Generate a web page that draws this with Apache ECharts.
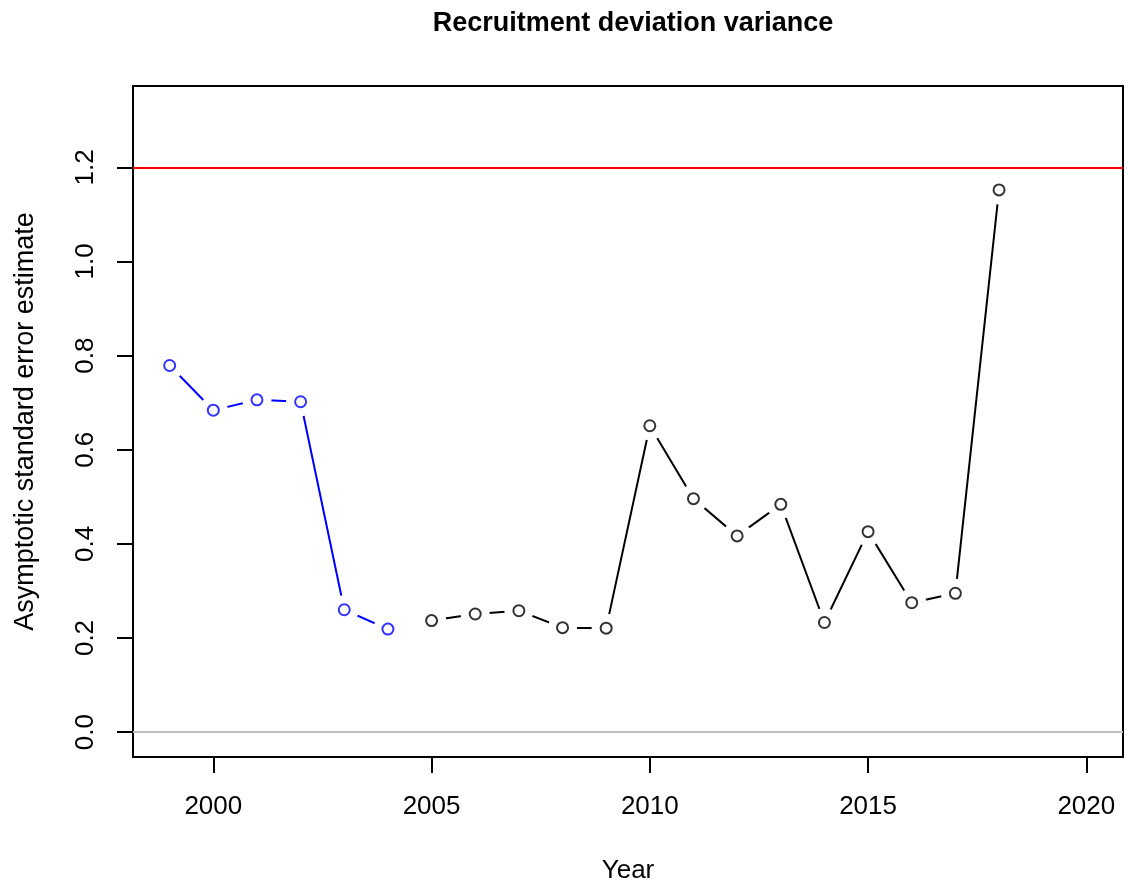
<!DOCTYPE html>
<html>
<head>
<meta charset="utf-8">
<title>Recruitment deviation variance</title>
<script src="https://cdn.jsdelivr.net/npm/echarts@6/dist/echarts.min.js"></script>
<style>
  html, body { margin: 0; padding: 0; background: #fff; }
  #chart { width: 1124px; height: 884px; }
</style>
</head>
<body>
<div id="chart"></div>
<script>
// Early years (blue) and main period (black) of the recruitment deviation SE series
const earlyYears = [1999, 2000, 2001, 2002, 2003, 2004];
const earlySE    = [0.779, 0.684, 0.706, 0.702, 0.260, 0.219];
const mainYears  = [2005, 2006, 2007, 2008, 2009, 2010, 2011, 2012, 2013, 2014, 2015, 2016, 2017, 2018];
const mainSE     = [0.237, 0.251, 0.258, 0.222, 0.221, 0.651, 0.496, 0.417, 0.484, 0.233, 0.426, 0.275, 0.295, 1.152];

// Reference levels and axis ticks
const sigmaR = 1.2;
const zeroLevel = 0;
const xTicks = [2000, 2005, 2010, 2015, 2020];
const yTicks = [0, 0.2, 0.4, 0.6, 0.8, 1.0, 1.2];

// Axis limits with 4% padding around the plotted range (1999–2020, 0–1.32)
const xLim = [1999, 2020];
const yLim = [0, 1.32];
const pad = (lim) => { const d = (lim[1] - lim[0]) * 0.04; return [lim[0] - d, lim[1] + d]; };
const xr = pad(xLim), yr = pad(yLim);

const FONT = '"Liberation Sans", Arial, Helvetica, sans-serif';
const pairs = (xs, ys) => xs.map((x, i) => [x, ys[i]]);

// A line with large white markers leaves gaps around each point,
// then open circles are drawn on top.
function gappedLine(name, xs, ys, color, extra) {
  return [
    Object.assign({
      name: name + ' line',
      type: 'line',
      data: pairs(xs, ys),
      symbol: 'circle',
      symbolSize: 29,
      itemStyle: { color: '#fff', borderWidth: 0 },
      lineStyle: { color: color, width: 2 },
      emphasis: { disabled: true },
      silent: true,
      z: 2
    }, extra || {}),
    {
      name: name,
      type: 'scatter',
      data: pairs(xs, ys),
      symbol: 'circle',
      symbolSize: 11,
      itemStyle: { color: '#fff', borderColor: color, borderWidth: 2 },
      emphasis: { disabled: true },
      silent: true,
      z: 3
    }
  ];
}

const chart = echarts.init(document.getElementById('chart'), null, { renderer: 'canvas' });

chart.setOption({
  animation: false,
  backgroundColor: '#fff',
  textStyle: { fontFamily: FONT, color: '#000' },
  title: {
    text: 'Recruitment deviation variance',
    left: 628,
    textAlign: 'center',
    top: 5,
    textStyle: { fontFamily: FONT, fontSize: 27, fontWeight: 'bold', color: '#000' }
  },
  grid: {
    left: 133, right: 1, top: 86, bottom: 127,
    containLabel: false,
    outerBoundsMode: 'none',
    show: true, borderColor: '#000', borderWidth: 2, backgroundColor: 'transparent'
  },
  xAxis: {
    type: 'value',
    min: xr[0], max: xr[1],
    name: 'Year',
    nameLocation: 'middle',
    nameGap: 101,
    nameTextStyle: { fontFamily: FONT, fontSize: 26, color: '#000' },
    axisLine: { show: false, onZero: false },
    splitLine: { show: false },
    axisTick: { show: true, inside: false, length: 16, lineStyle: { color: '#000', width: 2 }, customValues: xTicks },
    axisLabel: {
      customValues: xTicks, margin: 37,
      fontFamily: FONT, fontSize: 26, color: '#000',
      formatter: (v) => String(v)
    }
  },
  yAxis: {
    type: 'value',
    min: yr[0], max: yr[1],
    name: 'Asymptotic standard error estimate',
    nameLocation: 'middle',
    nameGap: 94,
    nameRotate: 90,
    nameTextStyle: { fontFamily: FONT, fontSize: 27, color: '#000' },
    axisLine: { show: false, onZero: false },
    splitLine: { show: false },
    axisTick: { show: true, inside: false, length: 16, lineStyle: { color: '#000', width: 2 }, customValues: yTicks },
    axisLabel: {
      customValues: yTicks, rotate: 90, margin: 34,
      fontFamily: FONT, fontSize: 26, color: '#000',
      formatter: (v) => v.toFixed(1)
    }
  },
  series: [
    ...gappedLine('Early', earlyYears, earlySE, '#0000ff'),
    ...gappedLine('Main', mainYears, mainSE, '#000000', {
      markLine: {
        silent: true,
        symbol: ['none', 'none'],
        label: { show: false },
        emphasis: { disabled: true },
        data: [
          { yAxis: sigmaR, lineStyle: { color: '#ff0000', width: 2, type: 'solid' } },
          { yAxis: zeroLevel, lineStyle: { color: '#bebebe', width: 2, type: 'solid' } }
        ]
      }
    })
  ]
});
</script>
</body>
</html>
